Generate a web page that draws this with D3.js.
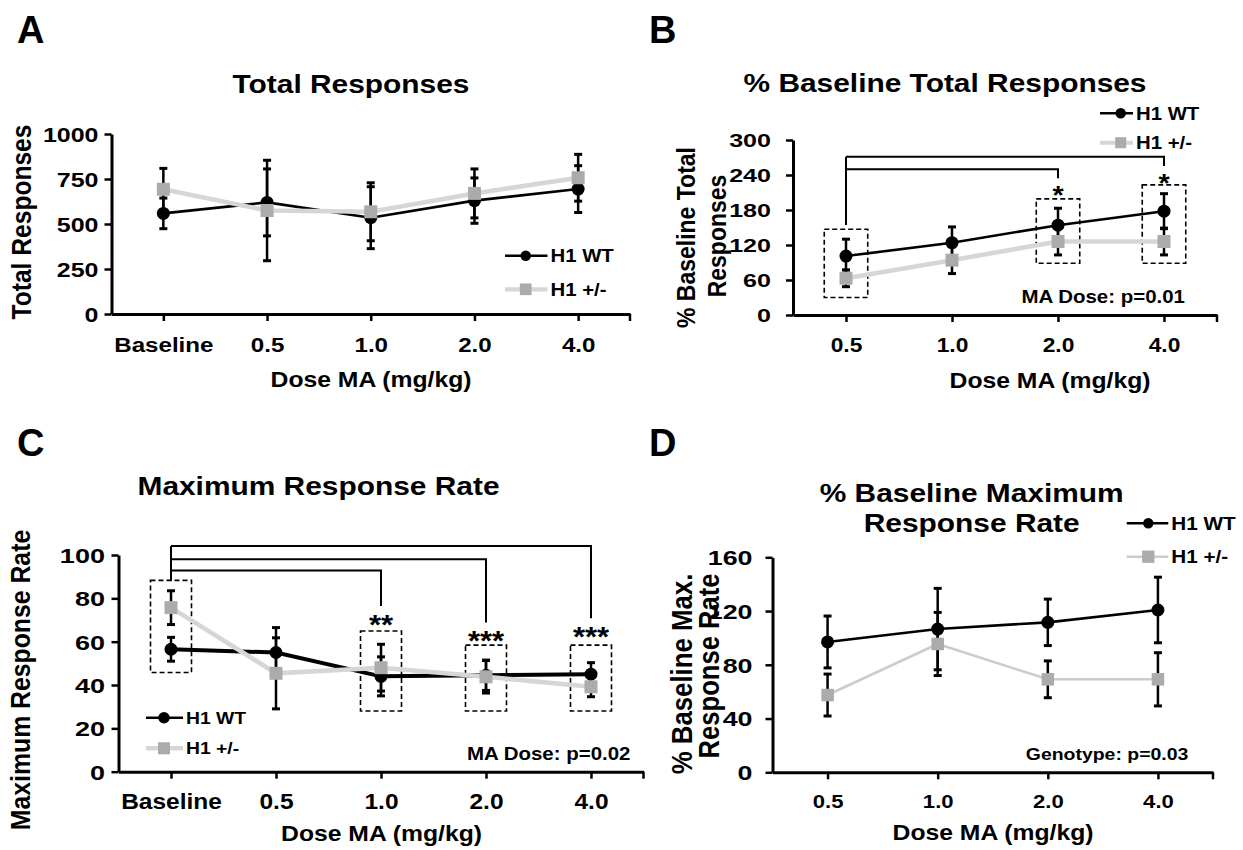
<!DOCTYPE html>
<html>
<head>
<meta charset="utf-8">
<script src="https://cdn.jsdelivr.net/npm/d3@7"></script>
<style>
  body { margin: 0; background: #fff; }
  svg text { font-family: "Liberation Sans", Arial, Helvetica, sans-serif; font-weight: bold; fill: #000; }
</style>
</head>
<body>
<svg id="fig" width="1243" height="850"></svg>
<script>
// categories
const dosesWithBase = ["Baseline", "0.5", "1.0", "2.0", "4.0"];
const doses = ["0.5", "1.0", "2.0", "4.0"];

// A: total responses
const totalWT = [559, 620, 535, 630, 694];
const totalWTErr = [85, 186, 172, 126, 130];
const totalHet = [693, 575, 568, 670, 757];
const totalHetErr = [116, 279, 161, 136, 130];
const ticksA = [0, 250, 500, 750, 1000];

// B: % baseline total responses
const pctTotalWT = [101, 124, 154, 178];
const pctTotalWTErr = [29, 27, 29, 30];
const pctTotalHet = [63, 94, 126, 126];
const pctTotalHetErr = [14.5, 23, 23, 23];
const ticksB = [0, 60, 120, 180, 240, 300];

// C: maximum response rate
const maxRateWT = [56.5, 55, 44, 44.5, 45];
const maxRateWTErr = [5.5, 11.5, 9, 7, 5.3];
const maxRateHet = [75.7, 45.4, 48, 43.8, 39.2];
const maxRateHetErr = [7.8, 16.4, 10.8, 7.5, 4.6];
const ticksC = [0, 20, 40, 60, 80, 100];

// D: % baseline maximum response rate
const pctMaxWT = [97, 106.6, 111.6, 120.8];
const pctMaxWTErr = [19.3, 30.3, 17.3, 24.4];
const pctMaxHet = [57.5, 95.5, 69.2, 69.2];
const pctMaxHetErr = [15.6, 23.5, 13.7, 19.8];
const ticksD = [0, 40, 80, 120, 160];

// significance annotations (value units)
const boxesB = [{ cat: "0.5", lo: 30, hi: 147 }, { cat: "2.0", lo: 88.6, hi: 199 }, { cat: "4.0", lo: 88.6, hi: 223 }];
const bracketsB = [{ to: "2.0", level: 249.7, drop: 234.3 }, { to: "4.0", level: 271.4, drop: 255.4 }];
const starsB = [{ cat: "2.0", s: "*", at: 214 }, { cat: "4.0", s: "*", at: 236 }];

const boxesC = [{ cat: "Baseline", lo: 45.8, hi: 88.3 }, { cat: "1.0", lo: 28, hi: 64.9 },
                { cat: "2.0", lo: 28, hi: 58.4 }, { cat: "4.0", lo: 28, hi: 58.4 }];
const bracketsC = [{ to: "1.0", level: 92.8, drop: 76.5 }, { to: "2.0", level: 98, drop: 68.8 }, { to: "4.0", level: 104.2, drop: 70.8 }];
const starsC = [{ cat: "1.0", s: "**", at: 70.8 }, { cat: "2.0", s: "***", at: 63.4 }, { cat: "4.0", s: "***", at: 64.9 }];

const SX = 1.15; // the figure is a bit stretched horizontally
const HET_LINE = "#d6d6d6", HET_MARK = "#ababab";

const svg = d3.select("#fig");

function txt(g, x, y, s, size, anchor = "start", sx = SX) {
    return g.append("text")
        .attr("transform", `translate(${x},${y}) scale(${sx},1)`)
        .attr("font-size", size)
        .attr("text-anchor", anchor)
        .text(s);
}

function vtxt(g, cx, cy, s, size) {
    return g.append("text")
        .attr("transform", `translate(${cx},${cy}) rotate(-90) scale(1,${SX})`)
        .attr("font-size", size)
        .attr("text-anchor", "middle")
        .attr("dy", "0.35em")
        .text(s);
}

function axes(g, x, y, yTicks, o) {
    const y0 = y.range()[0];
    const ya = g.append("g")
        .attr("transform", `translate(${x.range()[0]},0)`)
        .call(d3.axisLeft(y).tickValues(yTicks).tickSize(7).tickSizeOuter(0).tickFormat(d3.format("d")));
    ya.select(".domain").attr("stroke-width", 3);
    ya.selectAll(".tick line").attr("stroke-width", 2.5);
    ya.selectAll(".tick text")
        .attr("x", 0).attr("dy", "0.36em")
        .attr("transform", `translate(${-o.yPad},0) scale(${o.ySX},1)`)
        .attr("font-size", o.yFont);

    const xa = g.append("g")
        .attr("transform", `translate(0,${y0})`)
        .call(d3.axisBottom(x).tickSize(7).tickSizeOuter(0));
    xa.select(".domain").attr("stroke-width", 3);
    xa.selectAll(".tick line").attr("stroke-width", 2.5);
    xa.selectAll(".tick text")
        .attr("y", 0).attr("dy", null)
        .attr("transform", `translate(0,${o.xBase}) scale(${SX},1)`)
        .attr("font-size", o.xFont);
    xa.append("line")
        .attr("x1", x.range()[1]).attr("x2", x.range()[1])
        .attr("y1", 0).attr("y2", 7)
        .attr("stroke", "#000").attr("stroke-width", 2.5);
}

function series(g, x, y, cats, vals, errs, st) {
    const line = d3.line().x((d, i) => x(cats[i])).y(d => y(d));
    g.append("path").datum(vals)
        .attr("fill", "none").attr("stroke", st.color).attr("stroke-width", st.width)
        .attr("d", line);
    const eb = g.append("g").attr("stroke", "#000");
    vals.forEach((v, i) => {
        const cx = x(cats[i]);
        eb.append("line").attr("x1", cx).attr("x2", cx)
            .attr("y1", y(v - errs[i])).attr("y2", y(v + errs[i])).attr("stroke-width", 2.5);
        [v - errs[i], v + errs[i]].forEach(e => {
            eb.append("line").attr("x1", cx - 4).attr("x2", cx + 4)
                .attr("y1", y(e)).attr("y2", y(e)).attr("stroke-width", 3);
        });
    });
    marker(g, vals.map((v, i) => [x(cats[i]), y(v)]), st);
}

function marker(g, pts, st) {
    if (st.shape === "circle") {
        g.selectAll(null).data(pts).join("circle")
            .attr("cx", d => d[0]).attr("cy", d => d[1]).attr("r", st.size / 2)
            .attr("fill", "#000");
    } else {
        g.selectAll(null).data(pts).join("rect")
            .attr("x", d => d[0] - st.size / 2).attr("y", d => d[1] - st.size / 2)
            .attr("width", st.size).attr("height", st.size)
            .attr("fill", HET_MARK);
    }
}

function legend(g, x0, x1, xm, y, st, label, size) {
    g.append("line").attr("x1", x0).attr("x2", x1).attr("y1", y).attr("y2", y)
        .attr("stroke", st.color).attr("stroke-width", st.width);
    marker(g, [[xm, y]], st);
    txt(g, x1 + 3, y + size * 0.36, label, size);
}

function sig(g, x, y, from, brackets, boxes, stars, o) {
    const top = d3.max(brackets, d => d.level);
    g.append("line").attr("x1", x(from)).attr("x2", x(from))
        .attr("y1", y(top)).attr("y2", y(o.stem))
        .attr("stroke", "#000").attr("stroke-width", 2);
    brackets.forEach(b => {
        g.append("path")
            .attr("d", `M${x(from)},${y(b.level)}H${x(b.to)}V${y(b.drop)}`)
            .attr("fill", "none").attr("stroke", "#000").attr("stroke-width", 2);
    });
    boxes.forEach(b => {
        g.append("rect")
            .attr("x", x(b.cat) - o.boxW / 2).attr("width", o.boxW)
            .attr("y", y(b.hi)).attr("height", y(b.lo) - y(b.hi))
            .attr("fill", "none").attr("stroke", "#000").attr("stroke-width", 1.6)
            .attr("stroke-dasharray", "5,3");
    });
    stars.forEach(s => {
        txt(g, x(s.cat), y(s.at) + o.starFont * 0.57, s.s, o.starFont, "middle");
    });
}

const wtStyle = w => ({ color: "#000", width: w, shape: "circle", size: 13 });
const hetStyle = w => ({ color: HET_LINE, width: w, shape: "square", size: 13 });

// ---------- Panel A ----------
{
    const g = svg.append("g");
    const x = d3.scalePoint().domain(dosesWithBase).range([111.5, 630]).padding(0.5);
    const y = d3.scaleLinear().domain([0, 1000]).range([314, 134]);
    txt(g, 17, 43, "A", 38, "start", 1);
    txt(g, 351, 92.5, "Total Responses", 26, "middle");
    axes(g, x, y, ticksA, { yPad: 13, yFont: 20, ySX: 1.25, xBase: 37.5, xFont: 21 });
    vtxt(g, 21, 222, "Total Responses", 24.6);
    txt(g, 371, 386.5, "Dose MA (mg/kg)", 21.5, "middle");
    series(g, x, y, dosesWithBase, totalWT, totalWTErr, wtStyle(2.6));
    series(g, x, y, dosesWithBase, totalHet, totalHetErr, hetStyle(4.6));
    legend(g, 505, 547.5, 525.7, 255.7, { color: "#000", width: 2.6, shape: "circle", size: 10.5 }, "H1 WT", 17.7);
    legend(g, 505, 547.5, 525.7, 289.3, { color: HET_LINE, width: 4.2, shape: "square", size: 11.7 }, "H1 +/-", 17.7);
}

// ---------- Panel B ----------
{
    const g = svg.append("g");
    const x = d3.scalePoint().domain(doses).range([793, 1217]).padding(0.5);
    const y = d3.scaleLinear().domain([0, 300]).range([315, 140]);
    txt(g, 649, 42.7, "B", 38, "start", 1);
    txt(g, 945, 92.3, "% Baseline Total Responses", 26, "middle");
    axes(g, x, y, ticksB, { yPad: 22, yFont: 19, ySX: 1.32, xBase: 36.7, xFont: 19.8 });
    vtxt(g, 686, 237.5, "% Baseline Total", 23);
    vtxt(g, 716.5, 236, "Responses", 23);
    txt(g, 1050, 388.3, "Dose MA (mg/kg)", 21.5, "middle");
    sig(g, x, y, "0.5", bracketsB, boxesB, starsB, { stem: 154.3, boxW: 43.5, starFont: 25 });
    series(g, x, y, doses, pctTotalWT, pctTotalWTErr, wtStyle(2.6));
    series(g, x, y, doses, pctTotalHet, pctTotalHetErr, hetStyle(4.6));
    txt(g, 1185, 303.3, "MA Dose: p=0.01", 17.8, "end");
    legend(g, 1100, 1133, 1120.7, 113.3, { color: "#000", width: 2.6, shape: "circle", size: 10.5 }, "H1 WT", 17.7);
    legend(g, 1100, 1133, 1120.7, 142.7, { color: HET_LINE, width: 4, shape: "square", size: 11 }, "H1 +/-", 17.7);
}

// ---------- Panel C ----------
{
    const g = svg.append("g");
    const x = d3.scalePoint().domain(dosesWithBase).range([118.5, 643.5]).padding(0.5);
    const y = d3.scaleLinear().domain([0, 100]).range([771.7, 555]);
    txt(g, 17, 456, "C", 38, "start", 1);
    txt(g, 318.5, 495, "Maximum Response Rate", 26, "middle");
    axes(g, x, y, ticksC, { yPad: 13.5, yFont: 20.5, ySX: 1.32, xBase: 37.3, xFont: 21.3 });
    vtxt(g, 20, 680, "Maximum Response Rate", 24.8);
    txt(g, 381.5, 841, "Dose MA (mg/kg)", 21.5, "middle");
    sig(g, x, y, "Baseline", bracketsC, boxesC, starsC, { stem: 88, boxW: 41, starFont: 27 });
    series(g, x, y, dosesWithBase, maxRateWT, maxRateWTErr, wtStyle(4));
    series(g, x, y, dosesWithBase, maxRateHet, maxRateHetErr, hetStyle(4.6));
    txt(g, 630.5, 760, "MA Dose: p=0.02", 17.8, "end");
    legend(g, 146, 183, 164, 717.7, { color: "#000", width: 2.6, shape: "circle", size: 11.5 }, "H1 WT", 16.8);
    legend(g, 146, 183, 164, 748.3, { color: HET_LINE, width: 4.6, shape: "square", size: 12 }, "H1 +/-", 16.8);
}

// ---------- Panel D ----------
{
    const g = svg.append("g");
    const x = d3.scalePoint().domain(doses).range([772.5, 1213]).padding(0.5);
    const y = d3.scaleLinear().domain([0, 160]).range([772.3, 557.3]);
    txt(g, 649, 456, "D", 38, "start", 1);
    txt(g, 971.7, 501.7, "% Baseline Maximum", 26, "middle");
    txt(g, 971.7, 531.7, "Response Rate", 26, "middle");
    axes(g, x, y, ticksD, { yPad: 20, yFont: 20.5, ySX: 1.31, xBase: 36, xFont: 19.2 });
    vtxt(g, 681.7, 674, "% Baseline Max.", 25.8);
    vtxt(g, 709, 666, "Response Rate", 25.6);
    txt(g, 993, 840, "Dose MA (mg/kg)", 21.5, "middle");
    series(g, x, y, doses, pctMaxWT, pctMaxWTErr, wtStyle(2.6));
    series(g, x, y, doses, pctMaxHet, pctMaxHetErr, { color: "#cccccc", width: 2.6, shape: "square", size: 12.5 });
    txt(g, 1188.3, 760, "Genotype: p=0.03", 16.9, "end");
    legend(g, 1126.7, 1168.3, 1148.3, 523.3, { color: "#000", width: 2.6, shape: "circle", size: 10.5 }, "H1 WT", 18);
    legend(g, 1126.7, 1168.3, 1148.3, 556.7, { color: "#cccccc", width: 2.4, shape: "square", size: 12.3 }, "H1 +/-", 18);
}
</script>
</body>
</html>
